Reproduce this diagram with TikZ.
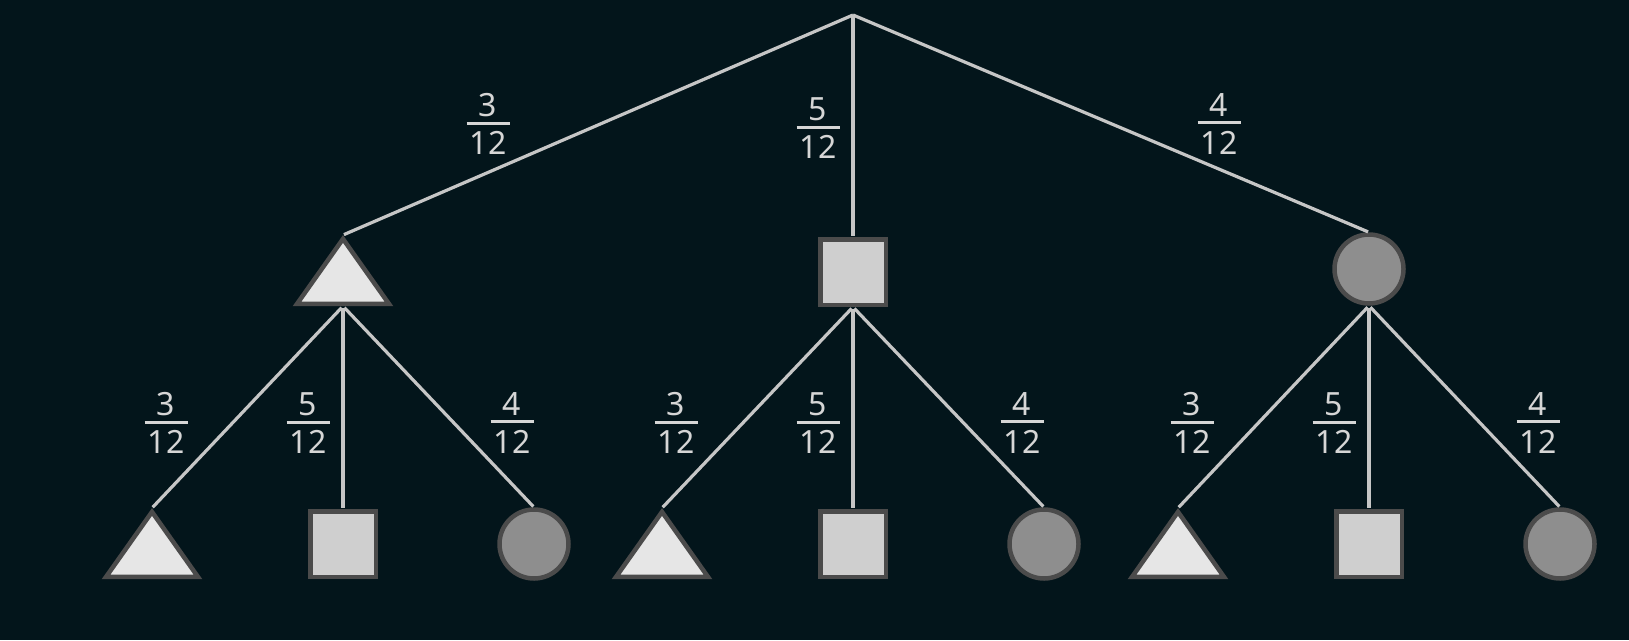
\documentclass[tikz,border=0pt]{standalone}
\usepackage{fontspec}
\setmainfont{Noto Sans}
\usetikzlibrary{shapes.geometric}
\definecolor{bgnight}{HTML}{03151B}
\definecolor{branchgrey}{HTML}{C6C6C6}
\definecolor{bordergrey}{HTML}{4B4B4B}
\definecolor{trifill}{HTML}{E6E6E6}
\definecolor{sqfill}{HTML}{CFCFCF}
\definecolor{circfill}{HTML}{8E8E8E}
\definecolor{labelgrey}{HTML}{D6D6D6}
\newcommand{\prob}[2]{\vbox{\offinterlineskip\halign{\hfil##\hfil\cr #1\cr\noalign{\kern5pt}\rule{43pt}{3pt}\cr\noalign{\kern7pt}#2\cr}}}
\tikzset{
  branch/.style={draw=branchgrey, line width=3.2pt, shorten >=1pt},
  shapebase/.style={draw=bordergrey, line width=4.5pt, inner sep=0pt},
  tri/.style={
      shapebase, fill=trifill,
      isosceles triangle,
      isosceles triangle apex angle=70,
      isosceles triangle stretches,
      shape border rotate=90,
      minimum width=92pt, minimum height=65pt
    },
  sq/.style={shapebase, fill=sqfill, rectangle, minimum size=65.5pt},
  circ/.style={shapebase, fill=circfill, circle, minimum size=69pt},
  problabel/.style={text=labelgrey, font=\fontsize{32}{32}\selectfont, inner sep=0pt}
}
\begin{document}
\begin{tikzpicture}[x=1pt,y=-1pt]
% background
\fill[bgnight] (0,0) rectangle (1629,640);
\useasboundingbox (0,0) rectangle (1629,640);

% first level
\coordinate (root) at (853,15);
\node[tri, anchor=apex] (t) at (343,235) {};
\node[sq] (s) at (853,272) {};
\node[circ] (c) at (1369,269) {};
\draw[branch] (root) -- (t.north);
\draw[branch] (root) -- (s.north);
\draw[branch] (root) -- (c.north);
\node[problabel] (p-t) at (488,124) {\prob{3}{12}};
\node[problabel] (p-s) at (818,128) {\prob{5}{12}};
\node[problabel] (p-c) at (1219,124) {\prob{4}{12}};

% second level
\foreach \up/\x in {t/343, s/853, c/1369} {
  \node[tri, anchor=apex] (\up-t) at (\x-191,508) {};
  \node[sq] (\up-s) at (\x,544) {};
  \node[circ] (\up-c) at (\x+191,544) {};
  \draw[branch, shorten <=2pt] (\up.south) -- (\up-t.north);
  \draw[branch, shorten <=2pt] (\up.south) -- (\up-s.north);
  \draw[branch, shorten <=2pt] (\up.south) -- (\up-c.north);
  \node[problabel] (\up-pt) at (\x-177,423) {\prob{3}{12}};
  \node[problabel] (\up-ps) at (\x-35,423) {\prob{5}{12}};
  \node[problabel] (\up-pc) at (\x+169,423) {\prob{4}{12}};
}
\end{tikzpicture}
\end{document}
